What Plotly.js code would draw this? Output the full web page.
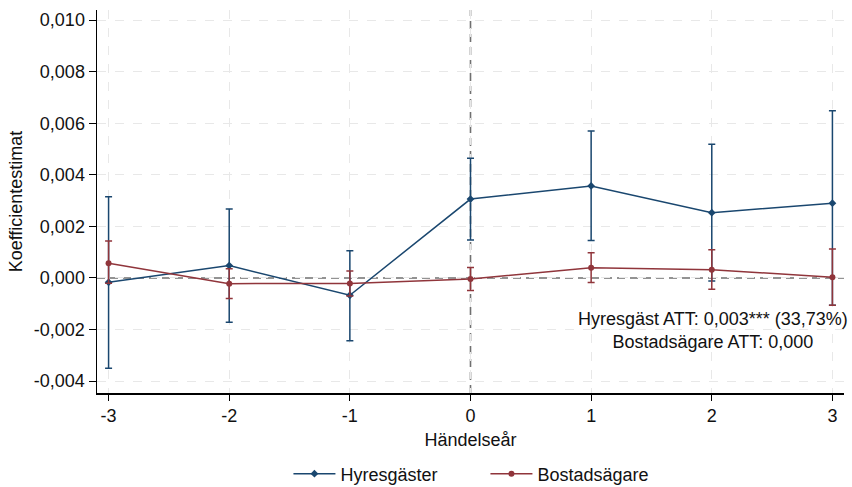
<!DOCTYPE html>
<html>
<head>
<meta charset="utf-8">
<script src="https://cdn.plot.ly/plotly-3.0.1.min.js"></script>
<style>html,body{margin:0;padding:0;background:#fff;}#chart{width:852px;height:487px;}</style>
</head>
<body>
<div id="chart"></div>
<script>
const years = [-3, -2, -1, 0, 1, 2, 3];
const tickLabels = ['-3', '-2', '-1', '0', '1', '2', '3'];
const yTickVals = [-0.004, -0.002, 0, 0.002, 0.004, 0.006, 0.008, 0.010];
const yTickLabels = ['-0,004', '-0,002', '0,000', '0,002', '0,004', '0,006', '0,008', '0,010'];

const hyresCoef  = [-0.00017, 0.00048, -0.00067, 0.00306, 0.00357, 0.00253, 0.00290];
const hyresUpper = [0.00315, 0.00267, 0.00106, 0.00464, 0.00570, 0.00518, 0.00648];
const hyresLower = [-0.00350, -0.00172, -0.00243, 0.00147, 0.00145, -0.00012, -0.00106];

const bostadCoef  = [0.00057, -0.00022, -0.00021, -0.00004, 0.00040, 0.00032, 0.00003];
const bostadUpper = [0.00143, 0.00036, 0.00027, 0.00041, 0.00098, 0.00109, 0.00112];
const bostadLower = [-0.00020, -0.00080, -0.00070, -0.00049, -0.00018, -0.00044, -0.00106];

const seriesNames = ['Hyresgäster', 'Bostadsägare'];
const annotationLines = ['Hyresgäst ATT: 0,003*** (33,73%)', 'Bostadsägare ATT: 0,000'];

const blue = '#1a476f';
const red = '#90353b';

function mkTrace(name, coef, up, lo, color, symbol) {
  return {
    x: years, y: coef, name: name, type: 'scatter', mode: 'lines+markers',
    line: {color: color, width: 1.5},
    marker: {color: color, size: 6, symbol: symbol},
    error_y: {
      type: 'data', symmetric: false,
      array: up.map((u, i) => u - coef[i]),
      arrayminus: coef.map((c, i) => c - lo[i]),
      color: color, thickness: 1.5, width: 3.5
    }
  };
}

const traces = [
  mkTrace(seriesNames[0], hyresCoef, hyresUpper, hyresLower, blue, 'diamond'),
  mkTrace(seriesNames[1], bostadCoef, bostadUpper, bostadLower, red, 'circle')
];

const fam = 'Liberation Sans, Arial, sans-serif';
const txt = {family: fam, size: 18, color: '#111'};

const layout = {
  width: 852, height: 487,
  margin: {l: 97, r: 8, t: 10, b: 94, autoexpand: false},
  paper_bgcolor: '#fff', plot_bgcolor: '#fff',
  font: txt,
  showlegend: true,
  legend: {orientation: 'h', x: 0.52, xanchor: 'center', y: -0.2115, yanchor: 'middle',
           font: txt, itemwidth: 42, entrywidth: 140, entrywidthmode: 'pixels'},
  xaxis: {
    range: [-3.096, 3.096],
    tickvals: years, ticktext: tickLabels,
    showgrid: true, gridcolor: '#e8e8e8', griddash: 'dash', gridwidth: 1,
    zeroline: false,
    showline: true, linecolor: '#000', linewidth: 1.5,
    ticks: 'outside', ticklen: 6, tickcolor: '#000',
    tickfont: txt, automargin: false,
    title: {text: 'Händelseår', font: txt, standoff: 8}
  },
  yaxis: {
    range: [-0.00446, 0.01039],
    tickvals: yTickVals, ticktext: yTickLabels,
    showgrid: true, gridcolor: '#e8e8e8', griddash: 'dash', gridwidth: 1,
    zeroline: false,
    showline: true, linecolor: '#000', linewidth: 1.5,
    ticks: 'outside', ticklen: 7, tickcolor: '#000',
    tickfont: txt, automargin: false,
    title: {text: 'Koefficientestimat', font: txt, standoff: 6}
  },
  shapes: [
    {type: 'line', xref: 'x', yref: 'paper', x0: 0, x1: 0, y0: 0, y1: 1,
     line: {color: '#707070', width: 1.6, dash: '8px,5px'}, layer: 'between'},
    {type: 'line', xref: 'paper', yref: 'y', x0: 0, x1: 1, y0: 0, y1: 0,
     line: {color: '#707070', width: 1.6, dash: '8px,5px'}, layer: 'between'}
  ],
  annotations: [
    {xref: 'paper', yref: 'paper', x: 0.8246, y: 0.163, xanchor: 'center', yanchor: 'middle',
     text: annotationLines[0] + '<br>' + annotationLines[1], showarrow: false, align: 'center',
     font: txt}
  ]
};

Plotly.newPlot('chart', traces, layout, {displayModeBar: false, staticPlot: true});
</script>
</body>
</html>
